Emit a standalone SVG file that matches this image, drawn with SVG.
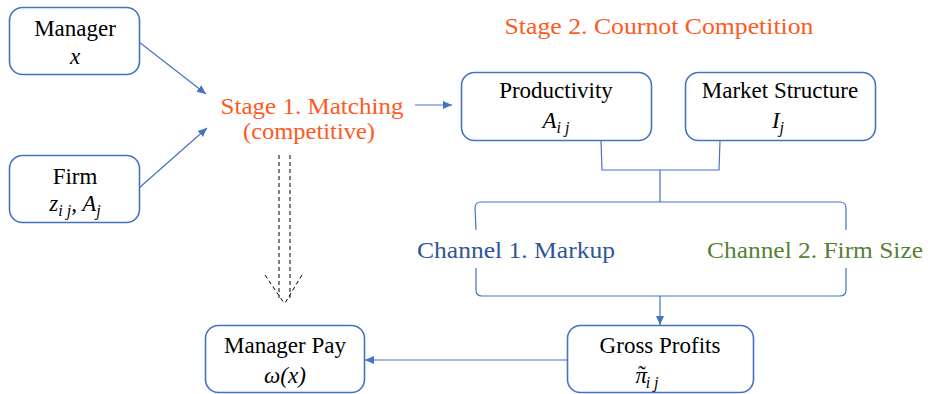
<svg xmlns="http://www.w3.org/2000/svg" width="928" height="394" viewBox="0 0 928 394">
<defs>
<marker id="ah" markerWidth="10" markerHeight="10" refX="9" refY="5" orient="auto" markerUnits="userSpaceOnUse">
<path d="M0,1 L9,5 L0,9 Z" fill="#4472C4"/>
</marker>
<style>
.box{fill:#fff;stroke:#4472C4;stroke-width:1.6}
.ln{fill:none;stroke:#4472C4;stroke-width:1.2}
text{font-family:'Tinos','Times New Roman','Liberation Serif','Noto Serif','DejaVu Serif',Times,Georgia,serif}
.lbl{font-size:23px;fill:#000;text-anchor:middle}
.math{font-style:italic;font-size:23px;fill:#000;text-anchor:middle}
.sub{font-size:16px}
.stage{font-size:24px;fill:#FF5A1E;text-anchor:middle}
.ch1{font-size:24px;fill:#2F5597}
.ch2{font-size:24px;fill:#548235}
.dash{fill:none;stroke:#000;stroke-width:1;stroke-dasharray:4,3}
</style>
</defs>
<rect width="928" height="394" fill="#fff"/>

<g id="connectors">
<line class="ln" x1="139" y1="42" x2="206" y2="94" marker-end="url(#ah)"/>
<line class="ln" x1="139" y1="188" x2="207" y2="128" marker-end="url(#ah)"/>
<line class="ln" x1="415" y1="105" x2="452" y2="105" marker-end="url(#ah)"/>
<path class="ln" d="M601,141 L602,170 L719,170 L720,141"/>
<line class="ln" x1="660" y1="170" x2="660" y2="202"/>
<path class="ln" d="M476,230 L475,208 Q475,202 481,202 L840,202 Q846,202 846,208 L846,230"/>
<path class="ln" d="M476,268 L476,290 Q476,296 482,296 L840,296 Q846,296 846,290 L846,268"/>
<line class="ln" x1="660" y1="296" x2="660" y2="325" marker-end="url(#ah)"/>
<line class="ln" x1="567" y1="360" x2="365" y2="360" marker-end="url(#ah)"/>
<line class="dash" x1="279" y1="155" x2="279" y2="298"/>
<line class="dash" x1="290" y1="155" x2="290" y2="298"/>
<line class="dash" x1="265" y1="275" x2="284" y2="303"/>
<line class="dash" x1="302" y1="275" x2="285" y2="303"/>
</g>

<g id="manager">
<rect class="box" x="9.5" y="7.5" width="130" height="67" rx="13"/>
<text class="lbl" x="75" y="36">Manager</text>
<text class="math" x="75" y="64">x</text>
</g>

<g id="firm">
<rect class="box" x="9.5" y="155.5" width="130" height="67" rx="13"/>
<text class="lbl" x="75" y="184">Firm</text>
<text class="math" x="75" y="211">z<tspan class="sub" dy="5">i j</tspan><tspan dy="-5">, A</tspan><tspan class="sub" dy="5">j</tspan></text>
</g>

<g id="stage1">
<text class="stage" x="312" y="114" textLength="183" lengthAdjust="spacingAndGlyphs">Stage 1. Matching</text>
<text class="stage" x="309" y="139" textLength="132" lengthAdjust="spacingAndGlyphs">(competitive)</text>
</g>

<g id="stage2">
<text class="stage" x="659" y="34" textLength="309" lengthAdjust="spacingAndGlyphs">Stage 2. Cournot Competition</text>
</g>

<g id="productivity">
<rect class="box" x="461.5" y="72.5" width="190" height="68" rx="13"/>
<text class="lbl" x="556" y="98">Productivity</text>
<text class="math" x="556" y="128">A<tspan class="sub" dy="5">i j</tspan></text>
</g>

<g id="market">
<rect class="box" x="685.5" y="72.5" width="190" height="68" rx="13"/>
<text class="lbl" x="780" y="98">Market Structure</text>
<text class="math" x="778" y="128">I<tspan class="sub" dy="5">j</tspan></text>
</g>

<g id="channels">
<text class="ch1" x="417" y="258" textLength="198" lengthAdjust="spacingAndGlyphs">Channel 1. Markup</text>
<text class="ch2" x="707" y="258" textLength="216" lengthAdjust="spacingAndGlyphs">Channel 2. Firm Size</text>
</g>

<g id="grossprofits">
<rect class="box" x="567.5" y="325.5" width="186" height="67" rx="13"/>
<text class="lbl" x="660" y="353">Gross Profits</text>
<text class="math" x="647" y="383" text-anchor="start">π<tspan dx="-9" dy="-1" font-style="normal">˜</tspan><tspan class="sub" dx="0" dy="6">i j</tspan></text>
</g>

<g id="managerpay">
<rect class="box" x="205.5" y="325.5" width="159" height="67" rx="13"/>
<text class="lbl" x="285" y="353">Manager Pay</text>
<text class="math" x="285" y="383">ω(x)</text>
</g>
</svg>
